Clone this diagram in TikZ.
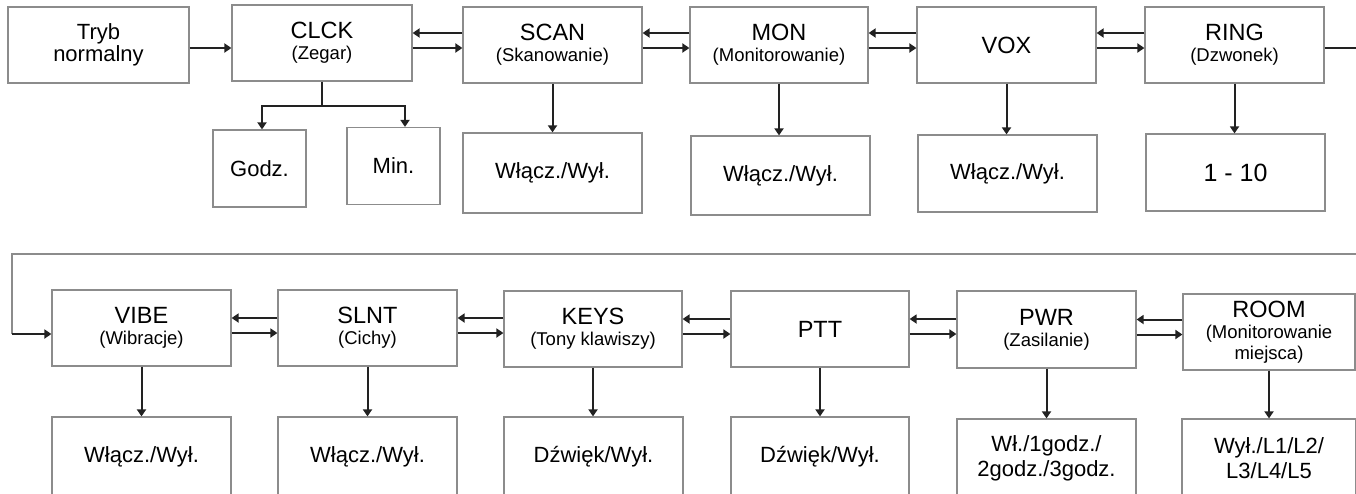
\documentclass[tikz,border=0pt]{standalone}
\usepackage{fontspec}
\setmainfont{Liberation Sans}
\usetikzlibrary{arrows.meta}
\definecolor{boxGray}{HTML}{8C8C8C}
\definecolor{lineDark}{HTML}{222222}
\newcommand{\titleSize}[0]{\fontsize{23.5}{21}\selectfont}
\newcommand{\optSize}[0]{\fontsize{22}{25}\selectfont}
\newcommand{\subName}[1]{{\fontsize{18.5}{20}\selectfont #1}}

\begin{document}
\begin{tikzpicture}[x=1pt, y=-1pt,
  mode/.style={draw=boxGray, line width=1.2pt, minimum width=179pt, minimum height=76pt,
    inner sep=0pt, align=center, font=\titleSize},
  opt/.style={mode, minimum height=78pt, font=\optSize},
  flow/.style={draw=lineDark, line width=2pt, -{Triangle[length=7pt,width=9pt]}},
  wire/.style={draw=boxGray, line width=1.4pt}]
  \useasboundingbox (0,0) rectangle (1356,493);
  \clip (0,0) rectangle (1356,493);

  % first row
  \node[mode, minimum width=181pt, font={\fontsize{22}{20}\selectfont}] (tryb) at (98.5,45) {Tryb\\normalny};
  \node[mode, minimum width=180pt] (clck) at (322,43) {CLCK\\\subName{(Zegar)}};
  \node[mode] (scan) at (552.5,45) {SCAN\\\subName{(Skanowanie)}};
  \node[mode, minimum width=178pt] (mon) at (779,45) {MON\\\subName{(Monitorowanie)}};
  \node[mode] (vox) at (1006.5,45) {VOX};
  \node[mode] (ring) at (1234.5,45) {RING\\\subName{(Dzwonek)}};

  \node[opt, minimum width=93pt, minimum height=77pt] (godz) at (259.5,168.5) {Godz.};
  \node[opt, minimum width=93pt, minimum height=77pt] (min) at (393.5,166) {Min.};
  \node[opt, minimum height=80pt] (scanOpt) at (552.5,173) {Włącz./Wył.};
  \node[opt, minimum height=79pt] (monOpt) at (780.5,175.5) {Włącz./Wył.};
  \node[opt, minimum height=77pt] (voxOpt) at (1007.5,173.5) {Włącz./Wył.};
  \node[opt, minimum height=77pt, font=\fontsize{25}{28}\selectfont] (ringOpt) at (1235.5,172.5) {1 - 10};

  % second row
  \node[mode] (vibe) at (141.5,328) {VIBE\\\subName{(Wibracje)}};
  \node[mode] (slnt) at (367.5,328) {SLNT\\\subName{(Cichy)}};
  \node[mode, minimum width=178pt] (keys) at (593,329) {KEYS\\\subName{(Tony klawiszy)}};
  \node[mode, minimum width=178pt] (ptt) at (820,329) {PTT};
  \node[mode, minimum height=77pt] (pwr) at (1046.5,329.5) {PWR\\\subName{(Zasilanie)}};
  \node[mode, minimum width=172pt] (room) at (1269,332) {ROOM\\\subName{(Monitorowanie}\\\subName{miejsca)}};

  \node[opt, minimum height=80pt] (vibeOpt) at (141.5,457) {Włącz./Wył.};
  \node[opt, minimum height=80pt] (slntOpt) at (367.5,457) {Włącz./Wył.};
  \node[opt, minimum height=80pt] (keysOpt) at (593.5,457) {Dźwięk/Wył.};
  \node[opt, minimum width=178pt, minimum height=80pt] (pttOpt) at (820,457) {Dźwięk/Wył.};
  \node[opt, minimum height=78pt] (pwrOpt) at (1046.5,458) {Wł./1godz./\\2godz./3godz.};
  \node[opt, minimum width=174pt, minimum height=78pt] (roomOpt) at (1269,458) {Wył./L1/L2/\\L3/L4/L5};

  % connectors
  \draw[flow] ([yshift=-3pt]tryb.east) -- ([yshift=-3pt]tryb.east -| clck.west);
  \foreach \a/\b in {clck/scan, scan/mon, mon/vox, vox/ring} {
    \draw[flow] ([yshift=12pt]\b.west) -- ([yshift=12pt]\b.west -| \a.east);
    \draw[flow] ([yshift=-3pt]\b.west -| \a.east) -- ([yshift=-3pt]\b.west);
  }
  \foreach \a/\b in {vibe/slnt, slnt/keys, keys/ptt, ptt/pwr, pwr/room} {
    \draw[flow] ([yshift=10pt]\a.east -| \b.west) -- ([yshift=10pt]\a.east);
    \draw[flow] ([yshift=-5pt]\a.east) -- ([yshift=-5pt]\a.east -| \b.west);
  }
  \foreach \a in {scan, mon, vox, ring, vibe, slnt, keys, ptt, pwr, room}
    \draw[flow] (\a.south) -- (\a.south |- \a Opt.north);

  \coordinate (clckSplit) at ([yshift=-24pt]clck.south);
  \draw[flow, -] (clck.south) -- (clckSplit);
  \draw[flow] (clckSplit) -| ([xshift=2.5pt]godz.north);
  \draw[flow] (clckSplit) -| ([xshift=11.5pt]min.north);

  % way back to the second row
  \coordinate (rightEdge) at (1362,254);
  \coordinate (leftEdge) at (12,254);
  \coordinate (vibeIn) at ([yshift=-6pt]vibe.west);
  \draw[flow, -] ([yshift=-3pt]ring.east) -- ([yshift=-3pt]ring.east -| rightEdge);
  \draw[wire] (rightEdge) -- (leftEdge) -- (leftEdge |- vibeIn);
  \draw[flow] (leftEdge |- vibeIn) -- (vibeIn);
\end{tikzpicture}
\end{document}
